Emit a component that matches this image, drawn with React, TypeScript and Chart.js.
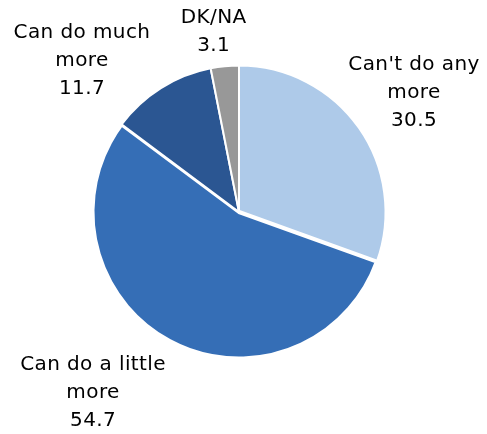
import React, { useEffect, useRef } from "react";
import { Chart, registerables } from "chart.js";

Chart.register(...registerables);

const categories = ["Can't do any more", "Can do a little more", "Can do much more", "DK/NA"];
const values = [30.5, 54.7, 11.7, 3.1];
const labelLines = [
  ["Can't do any", "more", "30.5"],
  ["Can do a little", "more", "54.7"],
  ["Can do much", "more", "11.7"],
  ["DK/NA", "3.1"],
];
const colors = ["#AECAE9", "#356EB6", "#2B5692", "#989898"];

// label placement relative to each slice: angle shift (deg) and distance in radii
const labelLayout = [
  { dAngle: 0.8, k: 1.451 },
  { dAngle: 10.6, k: 1.593 },
  { dAngle: -13.9, k: 1.492 },
  { dAngle: -2.4, k: 1.249 },
];

const labelPlugin = {
  id: "outerLabels",
  afterDatasetsDraw(chart: any) {
    const ctx = chart.ctx;
    const meta = chart.getDatasetMeta(0);
    ctx.save();
    ctx.font = '20px "DejaVu Sans", Verdana, sans-serif';
    (ctx as any).letterSpacing = "0.4px";
    ctx.fillStyle = "#000000";
    ctx.textAlign = "center";
    ctx.textBaseline = "middle";
    const lh = 28;
    meta.data.forEach((arc: any, i: number) => {
      const p = arc.getProps(["x", "y", "startAngle", "endAngle", "outerRadius"], true);
      const mid = (p.startAngle + p.endAngle) / 2 + (labelLayout[i].dAngle * Math.PI) / 180;
      const d = 146 * labelLayout[i].k;
      const cx = p.x + Math.cos(mid) * d;
      const cy = p.y + Math.sin(mid) * d;
      const lines = labelLines[i];
      lines.forEach((t, j) => {
        ctx.fillText(t, cx, cy + (j - (lines.length - 1) / 2) * lh);
      });
    });
    ctx.restore();
  },
};

export default function App() {
  const ref = useRef<HTMLCanvasElement>(null);
  useEffect(() => {
    if (!ref.current) return;
    const chart = new Chart(ref.current, {
      type: "pie",
      data: {
        labels: categories,
        datasets: [
          {
            data: values,
            backgroundColor: colors,
            borderColor: "#ffffff",
            borderWidth: [2, 4, 2, 2],
            radius: 146.5,
          } as any,
        ],
      },
      options: {
        responsive: false,
        animation: false,
        layout: { padding: { left: 0, right: 17, top: 0, bottom: 10 } },
        plugins: {
          legend: { display: false },
          tooltip: { enabled: false },
        },
      },
      plugins: [labelPlugin],
    });
    return () => chart.destroy();
  }, []);
  return (
    <canvas
      ref={ref}
      width={479}
      height={418}
      style={{ display: "block", width: 479, height: 418 }}
    />
  );
}
